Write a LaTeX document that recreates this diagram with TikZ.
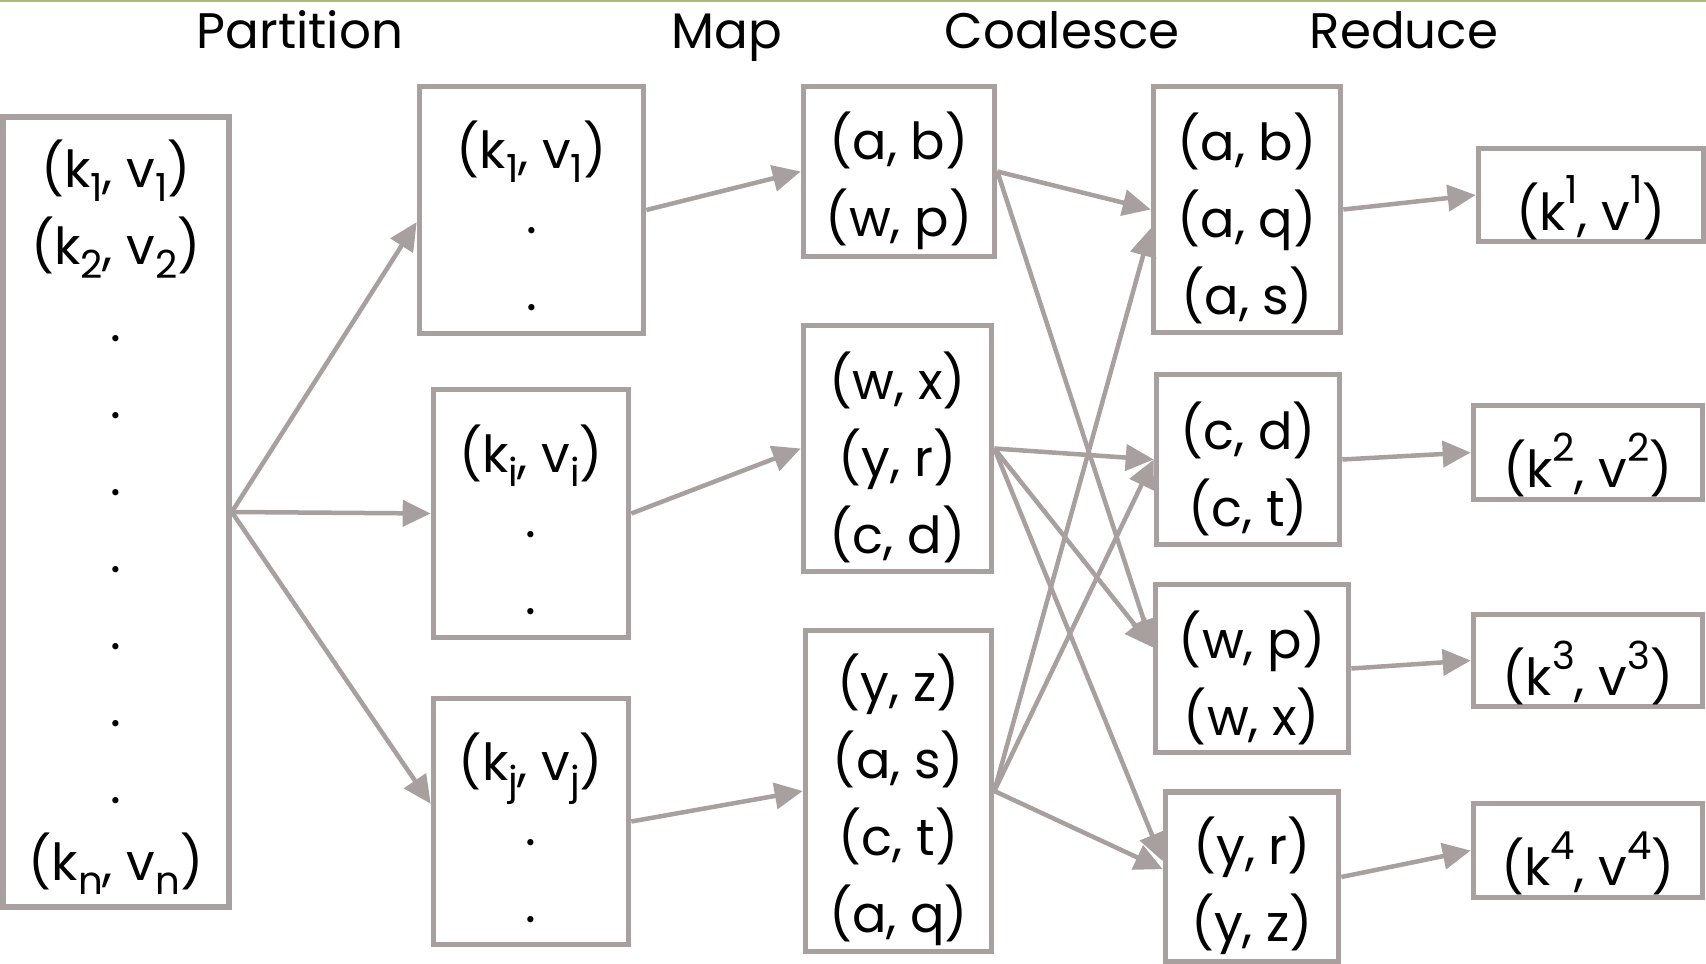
\documentclass[tikz,border=0pt]{standalone}
\usepackage{fontspec}
\setmainfont{Poppins}
\usetikzlibrary{arrows.meta}
\definecolor{linegray}{RGB}{168,160,158}
\definecolor{topgreen}{RGB}{172,186,120}
\newcommand{\idx}[1]{{\fontsize{11}{12}\selectfont#1}}
\newcommand{\kvsub}[1]{(k\raisebox{-0.5ex}{\idx{#1}}, v\raisebox{-0.5ex}{\idx{#1}})}
\newcommand{\kvsup}[1]{(k\raisebox{0.95ex}{\idx{#1}}, v\raisebox{0.95ex}{\idx{#1}})}
\newcommand{\padtop}[1][0.66cm]{\rule{0pt}{#1}}

\begin{document}
\begin{tikzpicture}[x=0.01cm, y=-0.01cm,
  pair/.style={draw=linegray, line width=0.055cm, inner sep=0pt, align=center,
    font=\fontsize{14.5}{21.9}\selectfont},
  flow/.style={draw=linegray, line width=0.045cm, -{Triangle[length=0.28cm,width=0.26cm]}},
  stage/.style={anchor=base, font=\fontsize{14.2}{18}\selectfont}]
  \useasboundingbox (0,0) rectangle (1706,964);
  \draw[topgreen, line width=0.02cm] (0,1) -- (1706,1);

  \node[stage] (hpart) at (300,49) {Partition};
  \node[stage] (hmap) at (727,49) {Map};
  \node[stage] (hcoal) at (1062,49) {Coalesce};
  \node[stage] (hred) at (1404,49) {Reduce};

  \node[pair, minimum width=2.26cm, minimum height=7.90cm] (input) at (116,512)
    {\padtop[0.58cm]\kvsub{1}\\\kvsub{2}\\.\\.\\.\\.\\.\\.\\.\\\kvsub{n}};

  \node[pair, minimum width=2.24cm, minimum height=2.47cm] (part1) at (531.5,210) {\padtop[0.6cm]\kvsub{1}\\[-0.12cm].\\.};
  \node[pair, minimum width=1.95cm, minimum height=2.48cm] (parti) at (531,513.5) {\padtop[0.6cm]\kvsub{i}\\[-0.12cm].\\.};
  \node[pair, minimum width=1.95cm, minimum height=2.46cm] (partj) at (531,821.5) {\padtop[0.6cm]\kvsub{j}\\[-0.12cm].\\.};

  \node[pair, minimum width=1.91cm, minimum height=1.70cm] (map1) at (899,171.5) {\padtop(a, b)\\(w, p)};
  \node[pair, minimum width=1.88cm, minimum height=2.46cm] (map2) at (897.5,448.5) {\padtop(w, x)\\(y, r)\\(c, d)};
  \node[pair, minimum width=1.86cm, minimum height=3.21cm] (map3) at (898.5,791) {\padtop(y, z)\\(a, s)\\(c, t)\\(a, q)};

  \node[pair, minimum width=1.87cm, minimum height=2.46cm] (coal1) at (1247,209.5) {\padtop(a, b)\\(a, q)\\(a, s)};
  \node[pair, minimum width=1.83cm, minimum height=1.70cm] (coal2) at (1248,459.5) {\padtop(c, d)\\(c, t)};
  \node[pair, minimum width=1.93cm, minimum height=1.68cm] (coal3) at (1252,668.5) {\padtop(w, p)\\(w, x)};
  \node[pair, minimum width=1.73cm, minimum height=1.70cm] (coal4) at (1252,877) {\padtop(y, r)\\(y, z)};

  \node[pair, minimum width=2.25cm, minimum height=0.93cm] (red1) at (1591,195) {\padtop[0.8cm]\kvsup{1}};
  \node[pair, minimum width=2.29cm, minimum height=0.94cm] (red2) at (1588,452.5) {\padtop[0.8cm]\kvsup{2}};
  \node[pair, minimum width=2.29cm, minimum height=0.92cm] (red3) at (1588,660.5) {\padtop[0.8cm]\kvsup{3}};
  \node[pair, minimum width=2.29cm, minimum height=0.94cm] (red4) at (1588,850.5) {\padtop[0.8cm]\kvsup{4}};

  \draw[flow] (input.east) -- (part1.186);
  \draw[flow] (input.east) -- (parti.west);
  \draw[flow] (input.east) -- (partj.170);

  \draw[flow] (part1.east) -- (map1.west);
  \draw[flow] (parti.east) -- (map2.west);
  \draw[flow] (partj.east) -- (map3.west);

  \draw[flow] (map1.east) -- (coal1.west);
  \draw[flow] (map1.east) -- (coal3.168);
  \draw[flow] (map2.east) -- (coal2.west);
  \draw[flow] (map2.east) -- (coal3.168);
  \draw[flow] (map2.east) -- (coal4.170);
  \draw[flow] (map3.east) -- (coal1.191);
  \draw[flow] (map3.east) -- (coal2.west);
  \draw[flow] (map3.east) -- (coal4.175);

  \draw[flow] (coal1.east) -- (red1.west);
  \draw[flow] (coal2.east) -- (red2.west);
  \draw[flow] (coal3.east) -- (red3.west);
  \draw[flow] (coal4.east) -- (red4.west);
\end{tikzpicture}
\end{document}
